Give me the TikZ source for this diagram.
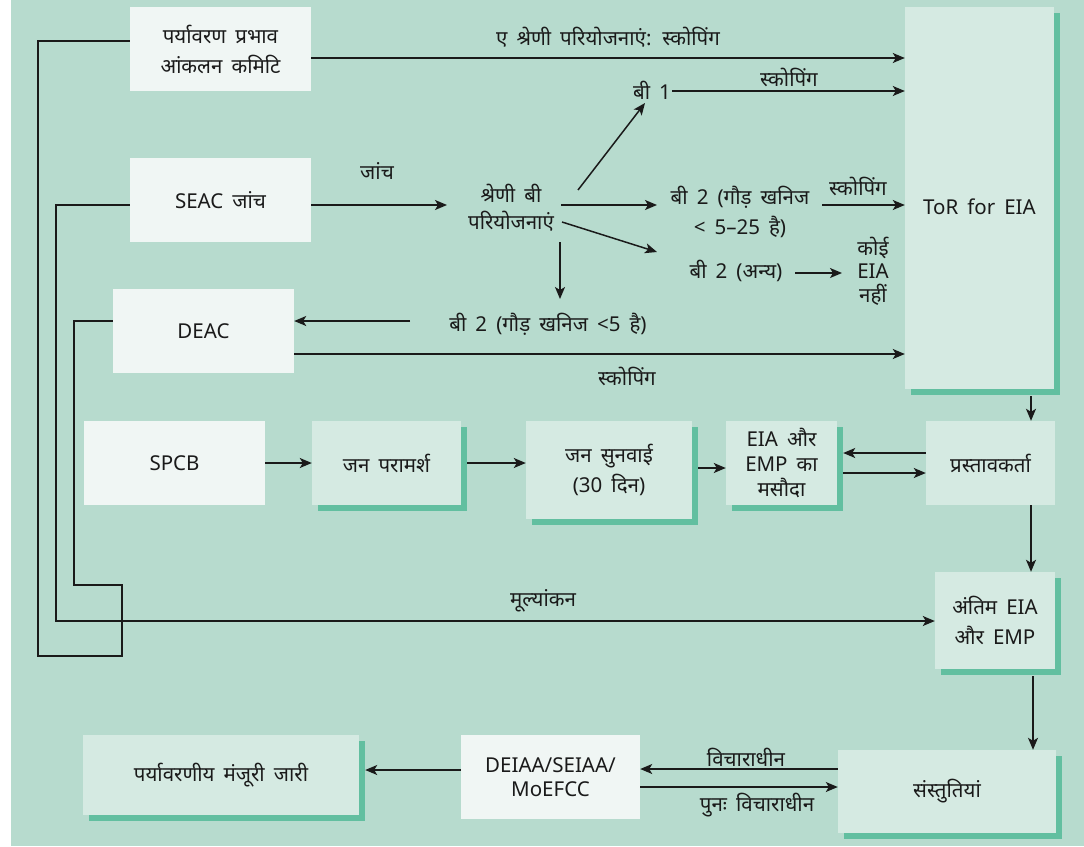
\documentclass[tikz,border=0pt]{standalone}
\usepackage{fontspec}
\setmainfont{Noto Sans}[Script=Devanagari,WordSpace=1.7]
\usetikzlibrary{arrows.meta,calc,shadows}
\definecolor{bg}{HTML}{B7DBCE}
\definecolor{vlight}{HTML}{F0F6F4}
\definecolor{lgreen}{HTML}{D5EAE2}
\definecolor{shc}{HTML}{62BFA0}
\definecolor{ink}{HTML}{1A1A1A}
\begin{document}
\begin{tikzpicture}[x=1pt,y=-1pt,
  every node/.style={font=\fontsize{20.5}{30}\selectfont, text=ink},
  vbox/.style={fill=vlight, inner sep=0pt, align=center},
  gbox/.style={fill=lgreen, inner sep=0pt, align=center},
  shd/.style={general shadow={fill=shc, shadow xshift=6pt, shadow yshift=-6pt}},
  lbl/.style={inner sep=1pt, align=center},
  arr/.style={-{Stealth[length=12pt,width=10pt,inset=3pt]}, line width=1.5pt, draw=ink},
  ln/.style={line width=1.5pt, draw=ink}]
\useasboundingbox (0,0) rectangle (1084,846);
\fill[bg] (11,0) rectangle (1084,846);

% boxes
\node[vbox, minimum width=181pt, minimum height=84pt] (epc) at (220.5,49) {पर्यावरण प्रभाव\\आंकलन कमिटि};
\node[vbox, minimum width=181pt, minimum height=84pt] (seac) at (220.5,200) {SEAC जांच};
\node[vbox, minimum width=181pt, minimum height=84pt] (deac) at (203.5,331) {DEAC};
\node[vbox, minimum width=181pt, minimum height=84pt] (spcb) at (174.5,463) {SPCB};
\node[gbox, shd, minimum width=149pt, minimum height=84pt] (jp) at (386.5,463) {जन परामर्श};
\node[gbox, shd, minimum width=166pt, minimum height=98pt] (js) at (609,470) {जन सुनवाई\\(30 दिन)};
\node[gbox, shd, minimum width=111pt, minimum height=84pt, font=\fontsize{20.5}{25}\selectfont] (draft) at (781.5,463) {EIA और\\EMP का\\मसौदा};
\node[gbox, minimum width=129pt, minimum height=84pt] (prop) at (990.5,463) {प्रस्तावकर्ता};
\node[gbox, shd, minimum width=149pt, minimum height=382pt,
      label={[yshift=-9pt]center:ToR for EIA}] (tor) at (979.5,198) {};
\node[gbox, shd, minimum width=120pt, minimum height=97pt] (final) at (995,620.5) {अंतिम EIA\\और EMP};
\node[gbox, shd, minimum width=218pt, minimum height=83pt] (rec) at (947,791.5) {संस्तुतियां};
\node[vbox, minimum width=179pt, minimum height=84pt, font=\fontsize{20.5}{24}\selectfont] (deiaa) at (550.5,777) {DEIAA/SEIAA/\\MoEFCC};
\node[gbox, shd, minimum width=276pt, minimum height=80pt] (ec) at (221,775) {पर्यावरणीय मंजूरी जारी};

% free text nodes
\node[lbl] (b1) at (652,90) {बी 1};
\node[lbl, font=\fontsize{20.5}{27}\selectfont] (catb) at (511,208) {श्रेणी बी\\परियोजनाएं};
\node[lbl, font=\fontsize{20.5}{30}\selectfont] (b2g) at (740,212) {बी 2 (गौड़ खनिज\\< 5–25 है)};
\node[lbl] (b2o) at (736,271) {बी 2 (अन्य)};
\node[lbl, font=\fontsize{20.5}{23.5}\selectfont] (noeia) at (873,271) {कोई\\EIA\\नहीं};
\node[lbl] (b2s) at (548,324) {बी 2 (गौड़ खनिज <5 है)};

% labels
\node[lbl] (la) at (608,37) {ए श्रेणी परियोजनाएं: स्कोपिंग};
\node[lbl] (lb1) at (789,77) {स्कोपिंग};
\node[lbl] (lj) at (377,171) {जांच};
\node[lbl] (lb2) at (858,186) {स्कोपिंग};
\node[lbl] (ld) at (627,376) {स्कोपिंग};
\node[lbl] (lm) at (543,601) {मूल्यांकन};
\node[lbl] (lv1) at (746,757) {विचाराधीन};
\node[lbl] (lv2) at (757,805) {पुनः विचाराधीन};

% named free ends
\coordinate (c1s) at (578,190);
\coordinate (c1e) at (645,103);
\coordinate (c2s) at (561,205);
\coordinate (c2e) at (657,205);
\coordinate (c3s) at (562,222);
\coordinate (c3e) at (657,252);
\coordinate (c4s) at (560,242);
\coordinate (c4e) at (560,299);
\coordinate (cj) at (447,205);
\coordinate (cd) at (410,321);

% connectors
\draw[arr] (epc.east |- 0,58) -- (tor.west |- 0,58);
\draw[arr] (672,91) -- (tor.west |- 0,91);
\draw[arr] (seac.east |- 0,205) -- (cj);
\draw[arr] (c1s) -- (c1e);
\draw[arr] (c2s) -- (c2e);
\draw[arr] (c3s) -- (c3e);
\draw[arr] (c4s) -- (c4e);
\draw[arr] (822,205) -- (tor.west |- 0,205);
\draw[arr] (795,273) -- (842,273);
\draw[arr] (cd) -- (deac.east |- 0,321);
\draw[arr] (deac.east |- 0,354) -- (tor.west |- 0,354);
\draw[arr] (1031,396) -- (prop.north -| 1031,0);
\draw[arr] (spcb.east) -- (jp.west);
\draw[arr] ([xshift=6pt]jp.east) -- (js.west |- jp.east);
\draw[arr] ([xshift=6pt]js.east |- 0,468) -- (draft.west |- 0,468);
\draw[arr] (prop.west |- 0,453) -- ([xshift=6pt]draft.east |- 0,453);
\draw[arr] ([xshift=6pt]draft.east |- 0,473) -- (prop.west |- 0,473);
\draw[arr] (prop.south -| 1031,0) -- (final.north -| 1031,0);
\draw[arr] (1033,676) -- (rec.north -| 1033,0);
\draw[arr] (rec.west |- 0,769) -- (deiaa.east |- 0,769);
\draw[arr] (deiaa.east |- 0,787) -- (rec.west |- 0,787);
\draw[arr] (deiaa.west |- 0,770) -- ([xshift=6pt]ec.east |- 0,770);

% left-side routing
\draw[ln] (epc.west |- 0,41) -| (38,656) -| (122,585) -| (74,321) -- (deac.west |- 0,321);
\draw[arr] (seac.west |- 0,205) -| (56,621) -- (final.west |- 0,621);
\end{tikzpicture}
\end{document}
